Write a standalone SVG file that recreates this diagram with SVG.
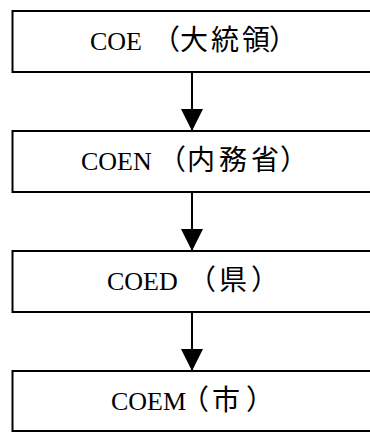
<svg xmlns="http://www.w3.org/2000/svg" width="370" height="432" viewBox="0 0 370 432">
<defs>
<style>
.box{fill:#fff;stroke:#000;stroke-width:2}
.lat{font-family:"Liberation Serif","Times New Roman",serif;font-size:26px;fill:#000}
.cjk{font-family:"Noto Sans CJK JP","Noto Sans CJK SC",sans-serif;font-size:28px;fill:#000}
.conn{stroke:#000;stroke-width:2;fill:none;marker-end:url(#ah)}
</style>
<marker id="ah" markerUnits="userSpaceOnUse" viewBox="0 0 22 22" markerWidth="22" markerHeight="22" refX="22" refY="11" orient="auto">
<path d="M0,0 L22,11 L0,22 z" fill="#000"/>
</marker>
</defs>
<rect width="370" height="432" fill="#fff"/>
<g id="connectors">
<line class="conn" x1="192" y1="72" x2="192" y2="131"/>
<line class="conn" x1="192" y1="192" x2="192" y2="251"/>
<line class="conn" x1="192" y1="312" x2="192" y2="371"/>
</g>
<g id="coe">
<rect class="box" x="12.5" y="11" width="400" height="61"/>
<text y="50"><tspan class="lat" x="90">COE</tspan><tspan class="cjk" x="152 180 211 242 269">（大統領）</tspan></text>
</g>
<g id="coen">
<rect class="box" x="12.5" y="131" width="400" height="61"/>
<text y="170"><tspan class="lat" x="81">COEN</tspan><tspan class="cjk" x="158 187 219 251 280">（内務省）</tspan></text>
</g>
<g id="coed">
<rect class="box" x="12.5" y="251" width="400" height="61"/>
<text y="290"><tspan class="lat" x="107">COED</tspan><tspan class="cjk" x="188 219 251">（県）</tspan></text>
</g>
<g id="coem">
<rect class="box" x="12.5" y="371" width="400" height="60"/>
<text y="410"><tspan class="lat" x="111">COEM</tspan><tspan class="cjk" x="181 212 246">（市）</tspan></text>
</g>
</svg>
